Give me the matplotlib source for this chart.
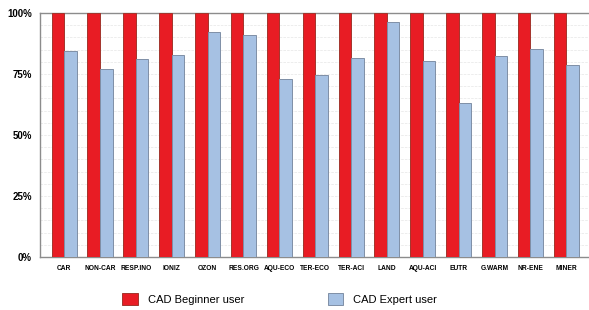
import numpy as np
import matplotlib
matplotlib.use('Agg')
import matplotlib.pyplot as plt
from matplotlib.ticker import FuncFormatter, MultipleLocator

# categories and values (percent)
categories = ['CAR', 'NON-CAR', 'RESP.INO', 'IONIZ', 'OZON', 'RES.ORG', 'AQU-ECO',
              'TER-ECO', 'TER-ACI', 'LAND', 'AQU-ACI', 'EUTR', 'G.WARM', 'NR-ENE', 'MINER']
beginner = [100, 100, 100, 100, 100, 100, 100, 100, 100, 100, 100, 100, 100, 100, 100]
expert = [84.4, 77.0, 81.1, 82.8, 92.2, 91.0, 73.0, 74.6, 81.6, 96.3, 80.3, 63.1, 82.4, 85.2, 78.7]
yticks = [0, 25, 50, 75, 100]

plt.rcParams['font.family'] = ['Liberation Sans', 'DejaVu Sans']

fig = plt.figure(figsize=(5.89, 3.10), dpi=100)
ax = fig.add_axes([0.068, 0.171, 0.93, 0.787])

x = np.arange(len(categories))
w = 0.35
ax.bar(x - w/2, beginner, w, color='#e81c24', edgecolor='#a3352c', linewidth=0.7,
       label='CAD Beginner user', zorder=3)
ax.bar(x + w/2, expert, w, color='#a6c1e3', edgecolor='#7f8fa6', linewidth=0.7,
       label='CAD Expert user', zorder=3)

ax.set_xlim(-0.67, len(categories) - 0.4)
ax.set_ylim(0, 100)
ax.set_yticks(yticks)
ax.yaxis.set_major_formatter(FuncFormatter(lambda v, p: '%d%%' % v))
ax.yaxis.set_minor_locator(MultipleLocator(5))
ax.grid(axis='y', which='both', color='#e6e6e6', linestyle='--', linewidth=0.5, zorder=0)

ax.set_xticks(x)
ax.set_xticklabels(categories, fontsize=4.8, fontweight='bold')
for t in ax.get_yticklabels():
    t.set_fontsize(7)
    t.set_fontweight('bold')
ax.tick_params(axis='both', which='both', length=0)
ax.tick_params(axis='x', pad=6)
ax.tick_params(axis='y', pad=6)

for s in ['left', 'bottom', 'top']:
    ax.spines[s].set_color('#8c8c8c')
    ax.spines[s].set_linewidth(1.0)
ax.spines['right'].set_visible(False)

fig.legend(loc='center', bbox_to_anchor=(0.475, 0.035), ncol=2, frameon=False,
           fontsize=8, handlelength=1.4, handleheight=1.3, columnspacing=7.5,
           handletextpad=0.9)

plt.savefig('out.png', dpi=100)
